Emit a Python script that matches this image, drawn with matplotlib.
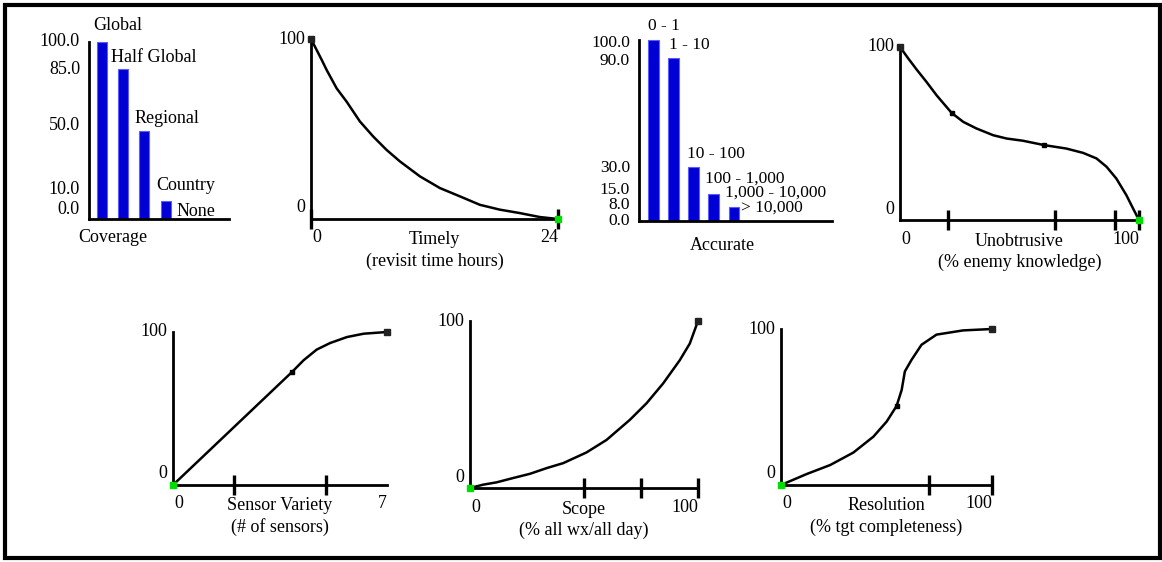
import matplotlib.pyplot as plt
from matplotlib.patches import Rectangle

W, H = 1162, 562

# bar panels
coverage_cats = ['Global', 'Half Global', 'Regional', 'Country', 'None']
coverage_vals = [100, 85, 50, 10, 0]
coverage_ticks = ['100.0', '85.0', '50.0', '10.0', '0.0']

accurate_cats = ['0 - 1', '1 - 10', '10 - 100', '100 - 1,000', '1,000 - 10,000', '> 10,000']
accurate_vals = [100, 90, 30, 15, 8, 0]
accurate_ticks = ['100.0', '90.0', '30.0', '15.0', '8.0', '0.0']

# value curves
timely_x = [0, 0.55, 1.04, 1.52, 2.49, 3.46, 4.75, 6.05, 7.34, 8.64, 10.58, 12.52, 14.46, 16.4, 18.34, 20.28, 22.22, 24]
timely_y = [100, 93.9, 88.4, 82.8, 72.6, 65.2, 54.2, 45.8, 38.4, 32.0, 23.7, 17.2, 12.6, 7.9, 5.2, 3.3, 1.1, 0]

unob_x = [0, 3.5, 7.0, 11.1, 15.3, 21.6, 26.5, 32.0, 39.0, 44.6, 51.5, 60.3, 69.6, 76.6, 82.2, 86.4, 90.5, 94.7, 97.5, 100]
unob_y = [100, 93.3, 86.9, 79.8, 72.1, 61.9, 56.7, 52.9, 49.0, 47.1, 45.8, 43.3, 41.3, 38.8, 35.6, 30.8, 24.0, 14.4, 6.7, 0]
unob_marks_x = [21.6, 60.3]
unob_marks_y = [61.9, 43.3]

sensor_x = [0, 3.9, 4.27, 4.7, 5.14, 5.69, 6.24, 7]
sensor_y = [0, 74, 81.5, 88.5, 92.8, 96.7, 98.9, 100]
sensor_marks_x = [3.9]
sensor_marks_y = [74]

scope_x = [0, 5.8, 11.7, 19.0, 26.3, 33.6, 40.9, 51.1, 59.9, 70.1, 77.4, 84.7, 92.0, 96.4, 100]
scope_y = [0, 2.0, 3.4, 6.0, 8.5, 11.9, 14.9, 21.3, 28.8, 40.8, 50.7, 62.6, 76.5, 86.5, 100]

res_x = [0, 12.3, 23.3, 34.3, 43.8, 50.1, 54.8, 57.2, 58.7, 61.9, 66.6, 73.7, 86.3, 100]
res_y = [0, 7.1, 12.8, 20.8, 31.0, 40.7, 50.7, 61.0, 72.8, 80.3, 89.9, 96.4, 99.1, 100]
res_marks_x = [54.8]
res_marks_y = [50.7]

plt.rcParams['font.family'] = ['Liberation Serif', 'DejaVu Serif']
plt.rcParams['font.size'] = 13

fig = plt.figure(figsize=(W / 100, H / 100), dpi=100)

# outer frame
fig.patches.append(Rectangle((5 / W, 4 / H), 1155 / W, 553 / H, transform=fig.transFigure,
                             fill=False, edgecolor='black', linewidth=3))


def make_axes(x0, x1, y_bot, y_top):
    # pixel box of the axis lines -> figure fraction
    ax = fig.add_axes([x0 / W, (H - y_bot) / H, (x1 - x0) / W, (y_bot - y_top) / H])
    ax.patch.set_alpha(0)
    for s in ['top', 'right']:
        ax.spines[s].set_visible(False)
    for s in ['left', 'bottom']:
        ax.spines[s].set_linewidth(2.0)
    ax.tick_params(left=False, labelleft=False, labelbottom=False)
    return ax


def label(ax, txt, xy, dx, dy, ha='center', coords='data', size=None):
    ax.annotate(txt, xy, xycoords=coords, xytext=(dx, dy), textcoords='offset pixels',
                ha=ha, va='center', annotation_clip=False, fontsize=size)


def curve_panel(box, xs, ys, xmax, ticks, xmax_lab, title, sub, mx=(), my=()):
    ax = make_axes(*box)
    ax.set_xlim(0, xmax)
    ax.set_ylim(0, 100)
    ax.set_xticks(ticks)
    ax.tick_params(axis='x', direction='inout', length=15, width=2.4)
    for t in ax.xaxis.get_major_ticks():
        t.tick1line.set_clip_on(False)
    ax.plot(xs, ys, color='black', linewidth=1.8, clip_on=False, zorder=3,
            solid_joinstyle='round')
    ax.plot(mx, my, 's', color='black', markersize=3.3, clip_on=False, zorder=4)
    # black square at the 100 end, green square at the 0 end
    if ys[0] == 100:
        top, bot = (xs[0], ys[0]), (xs[-1], ys[-1])
    else:
        top, bot = (xs[-1], ys[-1]), (xs[0], ys[0])
    ax.plot(*top, 's', color='#222222', markersize=4, clip_on=False, zorder=4)
    ax.plot(*bot, 's', color='#00dd00', markersize=5, clip_on=False, zorder=5)
    label(ax, '100', (0, 100), -6, 0, ha='right')
    label(ax, '0', (0, 0), -6, 11, ha='right')
    label(ax, '0', (0, 0), 1, -19, ha='left')
    label(ax, xmax_lab, (xmax, 0), 0, -19, ha='right')
    label(ax, title, (0.5, 0), 0, -21, coords='axes fraction')
    label(ax, sub, (0.5, 0), 0, -42, coords='axes fraction')
    return ax


def bar_panel(box, xlim, cats, vals, ticks, tick_dy, bw, lab_dx, lab_dy, title, title_fx, title_dy,
              size=13):
    ax = make_axes(*box)
    ax.set_xlim(*xlim)
    ax.set_ylim(0, 100)
    ax.tick_params(bottom=False)
    pos = list(range(len(vals)))
    ax.bar(pos, vals, width=bw, color='#0000d4', edgecolor='#5c5cff', linewidth=0.8,
           clip_on=False, zorder=1)
    for p, v, c, dx, dy in zip(pos, vals, cats, lab_dx, lab_dy):
        label(ax, c, (p - bw / 2, v), dx, dy, ha='left', size=size)
    for v, t, dy in zip(vals, ticks, tick_dy):
        label(ax, t, (xlim[0], v), -9, dy, ha='right', size=size)
    label(ax, title, (title_fx, 0), 0, -title_dy, coords='axes fraction')
    return ax


bar_panel((89, 229, 219, 42), (-0.61, 5.99), coverage_cats, coverage_vals, coverage_ticks,
          [1, -1, 5, 12, 9], 0.47, [-4, -7, -5, -4, -5], [17, 11, 12, 16, 8],
          'Coverage', 0.17, 19)

bar_panel((639, 832, 221, 40), (-0.725, 8.9), accurate_cats, accurate_vals, accurate_ticks,
          [-3, -3, -1, 4, 2, 0], 0.52, [0, 1, -1, -3, -4, -8], [14, 13, 13, 15, 14, 13],
          'Accurate', 0.43, 24, size=12.5)

curve_panel((311, 558, 219, 39), timely_x, timely_y, 24, [0, 24], '24',
            'Timely', '(revisit time hours)')

curve_panel((900, 1139, 220, 47), unob_x, unob_y, 100, [20, 65, 90, 100], '100',
            'Unobtrusive', '(% enemy knowledge)', unob_marks_x, unob_marks_y)

curve_panel((173, 387, 485, 332), sensor_x, sensor_y, 7, [2, 5], '7',
            'Sensor Variety', '(# of sensors)', sensor_marks_x, sensor_marks_y)

curve_panel((470, 698, 488, 321), scope_x, scope_y, 100, [50, 75, 100], '100',
            'Scope', '(% all wx/all day)')

curve_panel((781, 992, 485, 329), res_x, res_y, 100, [70, 100], '100',
            'Resolution', '(% tgt completeness)', res_marks_x, res_marks_y)

fig.savefig('out.png', dpi=100)
